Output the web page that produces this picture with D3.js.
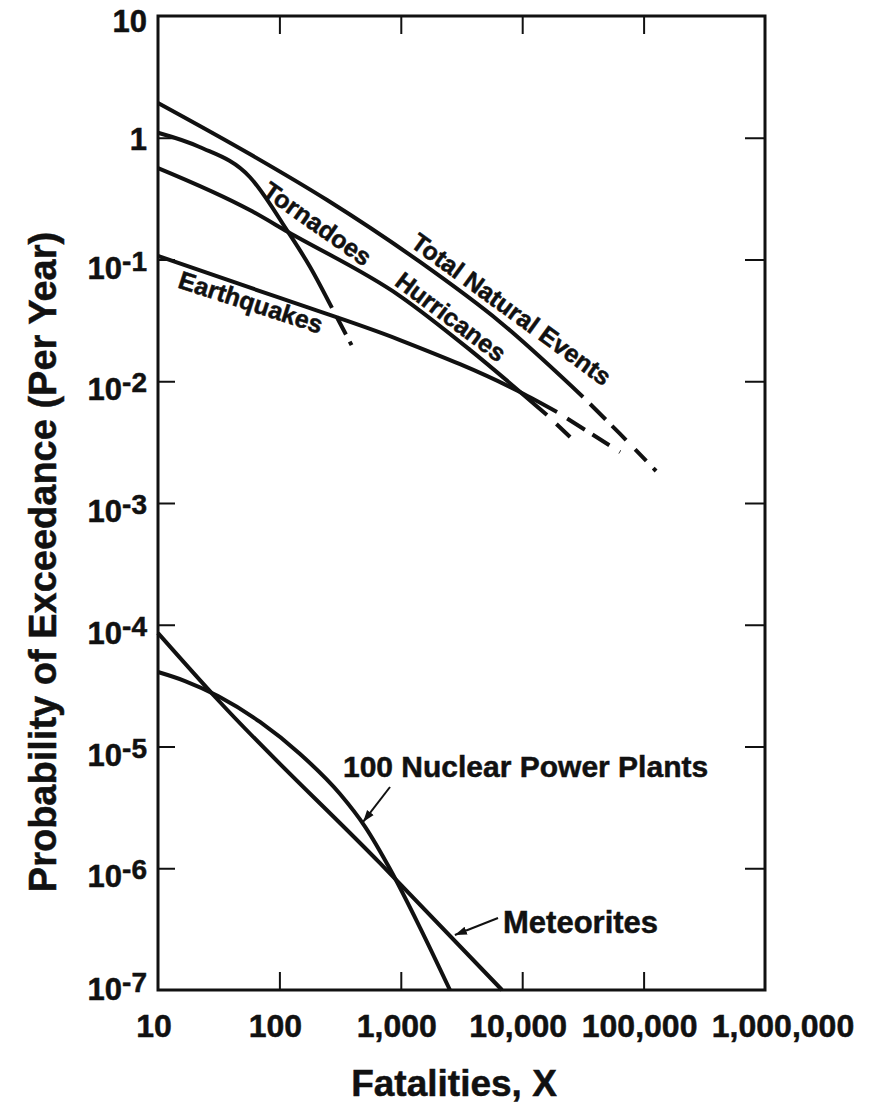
<!DOCTYPE html>
<html><head><meta charset="utf-8">
<script src="https://cdn.jsdelivr.net/npm/d3@7"></script>
<style>
body{margin:0;background:#fff}
text{font-family:"Liberation Sans",Arial,Helvetica,sans-serif;font-weight:bold;fill:#111;stroke:#111;stroke-width:0.5px}
</style>
</head><body><svg id="c" width="892" height="1103"></svg>
<script>
// ---------- data ----------
const xTicks = [10, 100, 1000, 10000, 100000, 1000000];
const xTickLabels = ["10", "100", "1,000", "10,000", "100,000", "1,000,000"];
const yTicks = [10, 1, 1e-1, 1e-2, 1e-3, 1e-4, 1e-5, 1e-6, 1e-7];
const yTickBase = ["10", "1", "10", "10", "10", "10", "10", "10", "10"];
const yTickExp  = ["", "", "-1", "-2", "-3", "-4", "-5", "-6", "-7"];

const totalSolid   = [[10,1.93],[57,0.735],[247,0.308],[1440,0.0954],[6560,0.0307],[31700,0.00743]];
const totalDashed  = [[31700,0.00743],[64000,0.00369],[128800,0.0018]];
const tornSolid    = [[10,1.1],[22,0.84],[57,0.476],[118,0.168],[179,0.0868],[271,0.040]];
const tornDashed   = [[271,0.040],[404,0.0188]];
const hurrSolid    = [[10,0.564],[57,0.255],[118,0.168],[985,0.0501],[3715,0.0181],[16000,0.00528]];
const hurrDashed   = [[16000,0.00528],[24800,0.00348]];
const quakeSolid   = [[10,0.107],[101,0.0483],[985,0.0218],[9590,0.00816],[19360,0.00559]];
const quakeDashed  = [[19360,0.00559],[64000,0.00262]];
const nuclear      = [[10,4.09e-5],[16.7,3.45e-5],[31.2,2.6e-5],[69.2,1.59e-5],[148,8.68e-6],[316,4.07e-6],[507,2.2e-6],[815,9.86e-7],[1439,3.26e-7],[2541,1e-7]];
const meteorites   = [[10,8.55e-5],[31.2,2.41e-5],[674,1.1e-6],[6820,1e-7]];

const curveLabels = [
  {text:"Tornadoes", x:206, y:0.198, angle:35, size:25},
  {text:"Total Natural Events", x:8170, y:0.0392, angle:36, size:25},
  {text:"Hurricanes", x:2591, y:0.034, angle:37, size:25},
  {text:"Earthquakes", x:58.3, y:0.0448, angle:18, size:25}
];
const arrowLabels = [
  {text:"100 Nuclear Power Plants", tx:334, ty:5.62e-6, size:30, from:[815,4.65e-6], to:[489,2.40e-6]},
  {text:"Meteorites", tx:6950, ty:2.94e-7, size:31, from:[6320,3.9e-7], to:[2790,2.83e-7]}
];

// ---------- layout ----------
const L = 158, R = 765, T = 16, B = 990;
const svg = d3.select("#c");
const x = d3.scaleLog().domain([10, 1e6]).range([L, R]);
const y = d3.scaleLog().domain([1e-7, 10]).range([B, T]);

function styleAxis(g){
  g.select(".domain").remove();
  g.selectAll(".tick line").attr("stroke","#111").attr("stroke-width",2);
  g.selectAll(".tick text").remove();
}
const innerX = xTicks.slice(1, -1), innerY = yTicks.slice(1, -1);
svg.append("g").attr("transform",`translate(0,${B})`)
  .call(d3.axisBottom(x).tickValues(innerX).tickSize(-18).tickFormat(""))
  .call(styleAxis);
svg.append("g").attr("transform",`translate(0,${T})`)
  .call(d3.axisTop(x).tickValues(innerX).tickSize(-18).tickFormat(""))
  .call(styleAxis);
svg.append("g").attr("transform",`translate(${L},0)`)
  .call(d3.axisLeft(y).tickValues(innerY).tickSize(-17).tickFormat(""))
  .call(styleAxis);
svg.append("g").attr("transform",`translate(${R},0)`)
  .call(d3.axisRight(y).tickValues(innerY).tickSize(-20).tickFormat(""))
  .call(styleAxis);

svg.append("rect").attr("x",L).attr("y",T).attr("width",R-L).attr("height",B-T)
  .attr("fill","none").attr("stroke","#111").attr("stroke-width",3);

// x tick labels
svg.append("g").selectAll("text").data(xTicks).join("text")
  .attr("x",(d,i)=> x(d) + (i === xTicks.length-1 ? 18 : -4))
  .attr("y", 1037)
  .attr("text-anchor","middle")
  .attr("font-size",32)
  .text((d,i)=>xTickLabels[i]);

// y tick labels
const yl = svg.append("g").selectAll("text").data(yTicks).join("text")
  .attr("x",147)
  .attr("y",(d,i)=> y(d) + (i===0 ? 16 : i===1 ? 12 : (i===yTicks.length-1 ? 10 : 19)))
  .attr("text-anchor","end")
  .attr("font-size",31);
yl.append("tspan").text((d,i)=>yTickBase[i]);
yl.filter((d,i)=>yTickExp[i]!=="").append("tspan")
  .attr("dy",-8).attr("font-size",28)
  .text(d=>yTickExp[yTicks.indexOf(d)]);

// axis titles
svg.append("text").attr("x",454).attr("y",1096).attr("text-anchor","middle")
  .attr("font-size",37).text("Fatalities, X");
svg.append("text").attr("transform","translate(56,562) rotate(-90)")
  .attr("text-anchor","middle").attr("font-size",38)
  .text("Probability of Exceedance (Per Year)");

// curves
const line = d3.line().x(d=>x(d[0])).y(d=>y(d[1])).curve(d3.curveMonotoneX);
const g = svg.append("g").attr("fill","none").attr("stroke","#111").attr("stroke-width",4);
[totalSolid, tornSolid, hurrSolid, quakeSolid, nuclear, meteorites].forEach(s=>{
  g.append("path").attr("d", line(s));
});
const dashes = [
  [totalDashed, "0 10 22 9 20 13 16 10 4 200"],
  [tornDashed,  "0 10 20 8 4 200"],
  [hurrDashed,  "0 13 19 200"],
  [quakeDashed, "0 12 21 9 20 12 4 200"]
];
dashes.forEach(([s,da])=>{
  g.append("path").attr("d", line(s)).attr("stroke-dasharray", da);
});

// curve labels
svg.append("g").selectAll("text").data(curveLabels).join("text")
  .attr("transform",d=>`translate(${x(d.x)},${y(d.y)}) rotate(${d.angle})`)
  .attr("text-anchor","middle").attr("dominant-baseline","central")
  .attr("font-size",d=>d.size).text(d=>d.text);

// arrow labels
const defs = svg.append("defs");
defs.append("marker").attr("id","ah").attr("viewBox","0 0 10 10").attr("refX",10).attr("refY",5)
  .attr("markerWidth",12).attr("markerHeight",12).attr("markerUnits","userSpaceOnUse")
  .attr("orient","auto").append("path").attr("d","M0,1.5 L10,5 L0,8.5 Z").attr("fill","#111");
const al = svg.append("g");
al.selectAll("text").data(arrowLabels).join("text")
  .attr("x",d=>x(d.tx)).attr("y",d=>y(d.ty)).attr("font-size",d=>d.size).text(d=>d.text);
al.selectAll("line").data(arrowLabels).join("line")
  .attr("x1",d=>x(d.from[0])).attr("y1",d=>y(d.from[1]))
  .attr("x2",d=>x(d.to[0])).attr("y2",d=>y(d.to[1]))
  .attr("stroke","#111").attr("stroke-width",2).attr("marker-end","url(#ah)");
</script></body></html>
